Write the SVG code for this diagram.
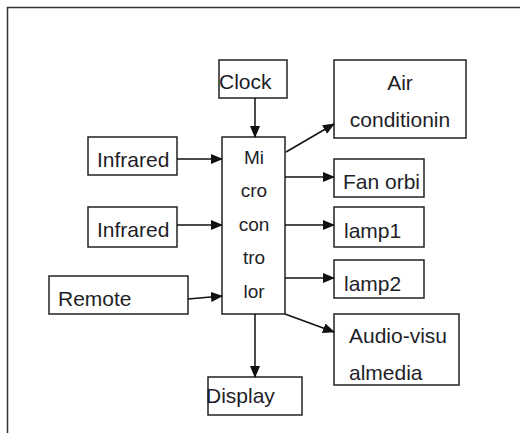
<svg xmlns="http://www.w3.org/2000/svg" width="520" height="433" viewBox="0 0 520 433">
<defs>
<style>
.box{fill:#fff;stroke:#222;stroke-width:1.5}
.t{font-family:"Liberation Sans",Arial,sans-serif;font-size:21px;fill:#1e1e28}
.m{font-family:"Liberation Sans",Arial,sans-serif;font-size:19px;fill:#1e1e28;text-anchor:middle}
.c{fill:none;stroke:#111;stroke-width:1.5}
</style>
<marker id="ah" markerUnits="userSpaceOnUse" markerWidth="12" markerHeight="10" refX="11" refY="5" orient="auto">
<path d="M0,0 L12,5 L0,10 Z" fill="#111"/>
</marker>
</defs>
<rect x="0" y="0" width="520" height="433" fill="#fff"/>
<path d="M7.5,440 L7.5,7.5 L530,7.5" fill="none" stroke="#333" stroke-width="1.5"/>
<g id="clock"><rect class="box" x="219" y="60" width="68" height="38"/><text class="t" x="219" y="89">Clock</text></g>
<g id="air"><rect class="box" x="334" y="60" width="132" height="78"/><text class="t" x="400" y="90" text-anchor="middle">Air</text><text class="t" x="400" y="127" text-anchor="middle">conditionin</text></g>
<g id="infrared1"><rect class="box" x="88" y="137" width="89" height="38"/><text class="t" x="97" y="167">Infrared</text></g>
<g id="infrared2"><rect class="box" x="88" y="207" width="89" height="40"/><text class="t" x="97" y="237">Infrared</text></g>
<g id="remote"><rect class="box" x="49" y="276" width="139" height="38"/><text class="t" x="58" y="306">Remote</text></g>
<g id="micro"><rect class="box" x="222" y="137" width="63" height="177"/>
<text class="m" x="254" y="164">Mi</text><text class="m" x="254" y="197">cro</text><text class="m" x="254" y="231">con</text><text class="m" x="254" y="264">tro</text><text class="m" x="254" y="298">lor</text></g>
<g id="fan"><rect class="box" x="334" y="159" width="90" height="38"/><text class="t" x="343" y="189">Fan orbi</text></g>
<g id="lamp1"><rect class="box" x="334" y="207" width="90" height="40"/><text class="t" x="344" y="238">lamp1</text></g>
<g id="lamp2"><rect class="box" x="334" y="260" width="90" height="38"/><text class="t" x="344" y="291">lamp2</text></g>
<g id="audio"><rect class="box" x="334" y="314" width="125" height="71"/><text class="t" x="349" y="343">Audio-visu</text><text class="t" x="349" y="380">almedia</text></g>
<g id="display"><rect class="box" x="208" y="377" width="94" height="38"/><text class="t" x="206" y="403">Display</text></g>
<g id="connectors">
<path class="c" d="M255,98 L255,137" marker-end="url(#ah)"/>
<path class="c" d="M177,159 L222,159" marker-end="url(#ah)"/>
<path class="c" d="M177,225 L222,225" marker-end="url(#ah)"/>
<path class="c" d="M188,299 L222,296" marker-end="url(#ah)"/>
<path class="c" d="M286,152 L334,124" marker-end="url(#ah)"/>
<path class="c" d="M285,177 L334,177" marker-end="url(#ah)"/>
<path class="c" d="M285,225 L334,225" marker-end="url(#ah)"/>
<path class="c" d="M285,278 L334,278" marker-end="url(#ah)"/>
<path class="c" d="M285,314 L334,332" marker-end="url(#ah)"/>
<path class="c" d="M255,314 L255,377" marker-end="url(#ah)"/>
</g>
</svg>
